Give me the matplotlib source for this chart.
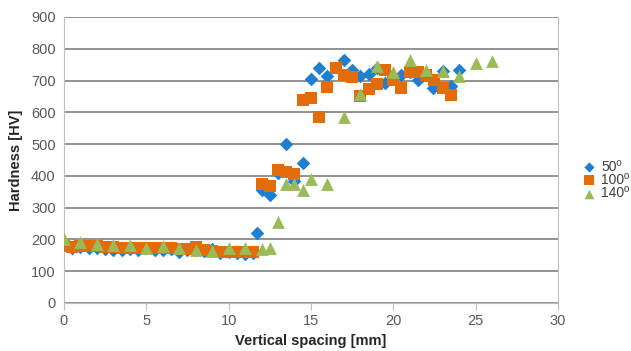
import matplotlib
matplotlib.use("Agg")
import matplotlib.pyplot as plt

plt.rcParams['font.family'] = ['Liberation Sans', 'DejaVu Sans']

# 50º series (blue diamonds)
x50 = [0.5, 1.0, 1.5, 2.0, 2.5, 3.0, 3.5, 4.0, 4.5, 5.0, 5.5, 6.0, 6.5, 7.0, 7.5, 8.0,
       8.5, 9.0, 9.5, 10.0, 10.5, 11.0, 11.5, 11.75, 12.0, 12.5, 13.0, 13.5, 14.0, 14.5,
       15.0, 15.5, 16.0, 17.0, 17.5, 18.0, 18.5, 19.0, 19.5, 20.0, 20.5, 21.0, 21.5,
       22.0, 22.4, 23.0, 23.5, 24.0]
y50 = [172, 176, 174, 172, 171, 168, 166, 170, 168, 172, 167, 168, 170, 160, 168, 166,
       164, 170, 158, 160, 158, 155, 156, 220, 355, 340, 410, 500, 385, 439,
       704, 740, 715, 765, 733, 715, 720, 738, 692, 712, 717, 727, 703,
       717, 678, 731, 684, 733]

# 100º series (orange squares)
x100 = [0.0, 0.5, 1.0, 1.5, 2.0, 2.5, 3.0, 3.5, 4.0, 4.5, 5.0, 5.5, 6.0, 6.5, 7.0, 7.5,
        8.0, 8.5, 9.0, 9.5, 10.0, 10.5, 11.0, 11.5, 12.0, 12.5, 13.0, 13.5, 14.0, 14.5,
        15.0, 15.5, 16.0, 16.5, 17.0, 17.5, 18.0, 18.5, 19.0, 19.5, 20.0, 20.5, 21.0,
        21.5, 22.0, 22.5, 23.0, 23.5]
y100 = [178, 176, 180, 178, 178, 176, 175, 174, 174, 173, 174, 173, 172, 172, 170, 170,
        175, 168, 165, 162, 160, 160, 161, 162, 376, 368, 418, 413, 406, 640,
        644, 584, 680, 738, 717, 710, 650, 672, 688, 733, 701, 678, 727,
        727, 717, 701, 675, 655]

# 140º series (green triangles)
x140 = [0, 1, 2, 3, 4, 5, 6, 7, 8, 9, 10, 11, 12, 12.5, 13, 13.5, 14, 14.5, 15, 16,
        17, 18, 19, 20, 21, 22, 23, 24, 25, 26]
y140 = [200, 193, 185, 181, 181, 172, 178, 172, 167, 165, 172, 172, 169, 172, 256, 376,
        376, 355, 390, 376, 584, 659, 745, 727, 764, 733, 731, 714, 754, 761]

labels = ['50º', '100º', '140º']
xticks = [0, 5, 10, 15, 20, 25, 30]
yticks = [0, 100, 200, 300, 400, 500, 600, 700, 800, 900]

fig = plt.figure(figsize=(6.31, 3.51), dpi=100)
ax = fig.add_axes([0.1014, 0.1368, 0.7826, 0.8148])

ax.scatter(x50, y50, marker='D', s=48, color='#1F7FD0', linewidths=0, label=labels[0], zorder=3)
ax.scatter(x100, y100, marker='s', s=80, color='#E36C0A', linewidths=0, label=labels[1], zorder=4)
ax.scatter(x140, y140, marker='^', s=85, color='#9BBB59', linewidths=0, label=labels[2], zorder=5)

ax.set_xlim(0, 30)
ax.set_ylim(0, 900)
ax.set_xticks(xticks)
ax.set_yticks(yticks)
ax.grid(axis='y', color='#7F7F7F', linewidth=1.2, zorder=1)
ax.set_axisbelow(True)

ax.spines['top'].set_visible(False)
ax.spines['right'].set_color('#BFBFBF')
ax.spines['left'].set_color('#BFBFBF')
ax.spines['bottom'].set_color('#BFBFBF')
ax.tick_params(axis='x', direction='out', length=5, color='#BFBFBF', labelsize=10.5,
               labelcolor='#595959', pad=3)
ax.tick_params(axis='y', length=0, labelsize=10.5, labelcolor='#595959', pad=6)

ax.set_xlabel('Vertical spacing [mm]', fontsize=10.5, fontweight='bold', color='#262626', labelpad=4)
ax.set_ylabel('Hardness [HV]', fontsize=10.5, fontweight='bold', color='#262626', labelpad=6)

leg = fig.legend(loc='center left', bbox_to_anchor=(0.922, 0.487), frameon=False,
                 fontsize=10, handletextpad=0.4, labelspacing=-0.05,
                 handlelength=1.0, borderaxespad=0, borderpad=0, markerscale=0.75)
for t in leg.get_texts():
    t.set_color('#404040')

fig.savefig('out.png', dpi=100)
